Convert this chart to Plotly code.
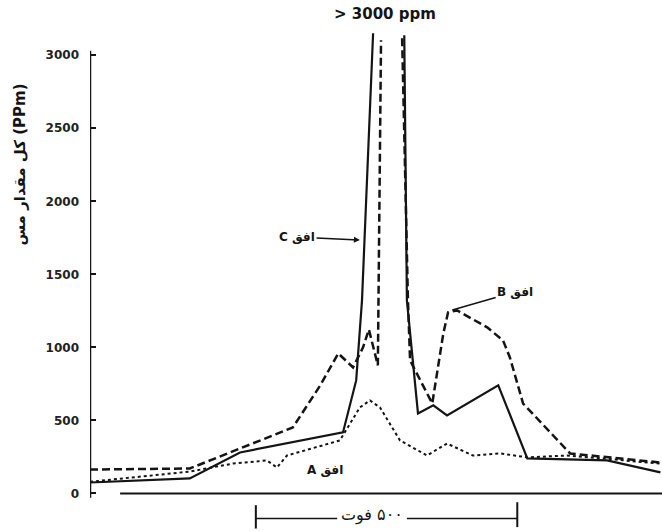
import plotly.graph_objects as go

# distance along profile (feet) and total copper (ppm)
x_c = [0, 189, 284, 479, 504, 515, 536, None, 595, 600, 621, 650, 676, 773, 828, 979, 1080]
y_c = [75, 103, 281, 418, 774, 1322, 3150, None, 3137, 1322, 548, 603, 534, 740, 240, 226, 144]

x_b = [0, 189, 384, 436, 470, 498, 517, 528, 545, 551, None, 591, 602, 606, 648, 669, 678, 695, 752, 782, 795, 820, 909, 1080]
y_b = [164, 171, 452, 740, 959, 863, 1000, 1123, 877, 3103, None, 3116, 1322, 911, 616, 1096, 1240, 1253, 1137, 1048, 931, 616, 274, 212]

x_a = [0, 189, 271, 335, 354, 373, 473, 511, 530, 549, 587, 638, 676, 725, 777, 828, 903, 1080]
y_a = [80, 150, 205, 226, 178, 260, 363, 589, 637, 589, 363, 260, 342, 260, 274, 247, 260, 205]

tick_vals = [0, 500, 1000, 1500, 2000, 2500, 3000]
tick_text = ["0", "500", "1000", "1500", "2000", "2500", "3000"]

ink = "#141414"
fig = go.Figure()
fig.add_trace(go.Scatter(x=x_c, y=y_c, mode="lines", connectgaps=False,
                         line=dict(color=ink, width=2.2), name="C"))
fig.add_trace(go.Scatter(x=x_b, y=y_b, mode="lines", connectgaps=False,
                         line=dict(color=ink, width=2.5, dash="8px,4px"), name="B"))
fig.add_trace(go.Scatter(x=x_a, y=y_a, mode="lines", connectgaps=False,
                         line=dict(color=ink, width=2, dash="3px,3px"), name="A"))

shapes = [
    dict(type="line", xref="x", yref="y", x0=0, x1=0, y0=-30, y1=3030,
         line=dict(color=ink, width=2.5)),
    dict(type="line", xref="x", yref="y", x0=57, x1=1083, y0=0, y1=0,
         line=dict(color=ink, width=2)),
    # 500 ft scale bar
    dict(type="line", xref="x", yref="y", x0=314, x1=468, y0=-171, y1=-171,
         line=dict(color=ink, width=1.5)),
    dict(type="line", xref="x", yref="y", x0=600, x1=809, y0=-171, y1=-171,
         line=dict(color=ink, width=1.5)),
    dict(type="line", xref="x", yref="y", x0=314, x1=314, y0=-80, y1=-240,
         line=dict(color=ink, width=2)),
    dict(type="line", xref="x", yref="y", x0=809, x1=809, y0=-60, y1=-230,
         line=dict(color=ink, width=2)),
]

lab_font = dict(family="DejaVu Sans", size=12, color=ink, weight="bold")
annotations = [
    dict(x=0.5166, y=1.024, xref="paper", yref="paper", text="> 3000 ppm", showarrow=False,
         xanchor="center", yanchor="middle",
         font=dict(family="DejaVu Sans", size=15, color=ink, weight="bold")),
    dict(x=511, y=1735, xref="x", yref="y", ax=392, ay=1756, axref="x", ayref="y",
         text="\u202bافق C\u202c", showarrow=True, arrowhead=2, arrowsize=0.8,
         arrowwidth=1.5, arrowcolor=ink, standoff=0, font=lab_font),
    dict(x=686, y=1256, xref="x", yref="y", ax=805, ay=1379, axref="x", ayref="y",
         text="\u202bافق B\u202c", showarrow=True, arrowhead=0,
         arrowwidth=1.5, arrowcolor=ink, standoff=0, font=lab_font),
    dict(x=445, y=161, xref="x", yref="y", text="\u202bافق A\u202c", showarrow=False,
         font=lab_font),
    dict(x=534, y=-150, xref="x", yref="y", text="\u202b۵۰۰ فوت\u202c", showarrow=False,
         xanchor="center", yanchor="middle",
         font=dict(family="DejaVu Sans", size=16, color=ink)),
    dict(x=-0.1224, y=0.725, xref="paper", yref="paper", text="کل مقدار مس (PPm)",
         textangle=-90, showarrow=False, xanchor="center", yanchor="middle",
         font=dict(family="DejaVu Sans", size=15, color=ink, weight="bold")),
]

fig.update_layout(
    width=662, height=531,
    margin=dict(l=90, r=0, t=26, b=1),
    paper_bgcolor="white", plot_bgcolor="white",
    showlegend=False,
    shapes=shapes, annotations=annotations,
    xaxis=dict(range=[0, 1083], visible=False, fixedrange=True),
    yaxis=dict(range=[-250, 3200], showgrid=False, zeroline=False, showline=False,
               tickvals=tick_vals, ticktext=tick_text, ticks="inside", ticklen=6,
               tickwidth=1.5, tickcolor=ink, ticklabelstandoff=10,
               tickfont=dict(family="DejaVu Sans", size=12, color="#222", weight="bold")),
)

fig.write_html("out.html", config={"displayModeBar": False},
               post_script="document.body.style.margin='0';document.body.style.overflow='hidden';")
